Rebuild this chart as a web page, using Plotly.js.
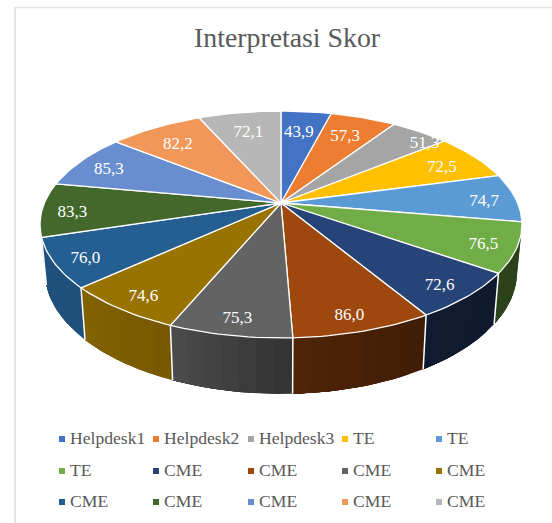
<!DOCTYPE html>
<html>
<head>
<meta charset="utf-8">
<script src="https://cdn.plot.ly/plotly-3.0.1.min.js"></script>
<style>html,body{margin:0;padding:0;background:#fff}#chart{width:552px;height:523px}</style>
</head>
<body>
<div id="chart"></div>
<script>
const categories = ["Helpdesk1","Helpdesk2","Helpdesk3","TE","TE","TE","CME","CME","CME","CME","CME","CME","CME","CME","CME"];
const values = [43.9,57.3,51.3,72.5,74.7,76.5,72.6,86.0,75.3,74.6,76.0,83.3,85.3,82.2,72.1];
const colors = ["#4472C4","#ED7D31","#A5A5A5","#FFC000","#5B9BD5","#70AD47","#264478","#9E480E","#636363","#997300","#255E91","#43682B","#698ED0","#F1975A","#B7B7B7"];
const chartTitle = "Interpretasi Skor";

// Projection of the tilted disc onto the page (perspective)
const CX = 281, CY = 203, A = 236.6, B = 109.4, K = 0.1895;
const SHRINK = 0.98;
const total = values.reduce((a,b)=>a+b,0);
const rad = d => d*Math.PI/180;
function top3d(deg, r){
  r = r===undefined ? 1 : r;
  const u = r*Math.sin(rad(deg)), v = -r*Math.cos(rad(deg)), w = 1-K*v;
  return [CX + A*u/w, CY + B*v/w];
}
function bottom3d(deg){
  const p = top3d(deg);
  return [CX + (p[0]-CX)*SHRINK, p[1] + 52 + (p[1]-289)*0.08];
}
function shadeFactor(x){
  const xs=[40,81,170,285,424,525], fs=[0.86,0.85,0.76,0.52,0.40,0.38];
  for(let i=1;i<xs.length;i++){ if(x<=xs[i]){ const t=(x-xs[i-1])/(xs[i]-xs[i-1]); return fs[i-1]+t*(fs[i]-fs[i-1]); } }
  return fs[fs.length-1];
}
function shade(hex,f){
  const n=parseInt(hex.slice(1),16);
  return `rgb(${Math.round((n>>16)*f)},${Math.round(((n>>8)&255)*f)},${Math.round((n&255)*f)})`;
}

const traces = [];
let cum = 0;
const slices = values.map((v,i)=>{
  const s = cum/total*360; cum += v; const e = cum/total*360;
  return {s,e,mid:(s+e)/2,color:colors[i],value:v,name:categories[i]};
});

// Side wall (visible front part only), drawn as shaded overlapping strips
const VIS0 = 101, VIS1 = 259;
slices.forEach(sl=>{
  const a0 = Math.max(sl.s,VIS0), a1 = Math.min(sl.e,VIS1);
  if(a1<=a0) return;
  const n = Math.max(1,Math.ceil((a1-a0)/4));
  for(let j=0;j<n;j++){
    // each strip runs to the end of the slice, so later strips paint over earlier ones with no seam
    const p0=a0+(a1-a0)*j/n, p1=a1;
    const xs=[],ys=[];
    const m=Math.max(2,Math.ceil((p1-p0)/1.5));
    for(let q=0;q<=m;q++){const d=p0+(p1-p0)*q/m,t=top3d(d);xs.push(t[0]);ys.push(t[1]);}
    for(let q=m;q>=0;q--){const d=p0+(p1-p0)*q/m,b=bottom3d(d);xs.push(b[0]);ys.push(b[1]);}
    xs.push(xs[0]);ys.push(ys[0]);
    const ct=top3d(p0+(a1-a0)/n/2);
    const c=shade(sl.color,shadeFactor(ct[0]));
    traces.push({type:"scatter",mode:"lines",x:xs,y:ys,fill:"toself",fillcolor:c,line:{width:0},hoverinfo:"skip",showlegend:false});
  }
});
// White seams between side wall segments
slices.forEach(sl=>{
  if(sl.s>VIS0 && sl.s<VIS1){
    const t=top3d(sl.s),b=bottom3d(sl.s);
    traces.push({type:"scatter",mode:"lines",x:[t[0],b[0]],y:[t[1],b[1]],line:{color:"#ffffff",width:1.5},hoverinfo:"skip",showlegend:false});
  }
});
// Top faces
slices.forEach(sl=>{
  const xs=[CX],ys=[CY];
  const n=Math.ceil((sl.e-sl.s)/1.5);
  for(let j=0;j<=n;j++){const p=top3d(sl.s+(sl.e-sl.s)*j/n);xs.push(p[0]);ys.push(p[1]);}
  xs.push(CX);ys.push(CY);
  traces.push({type:"scatter",mode:"lines",x:xs,y:ys,fill:"toself",fillcolor:sl.color,line:{color:"#ffffff",width:1.3},hoverinfo:"skip",showlegend:false});
});
// Data labels: radius along each slice's middle; two slices sit at their own place
const labelOverride = {2:{deg:47,r:0.945}, 3:{r:0.83}};
const lab = slices.map((sl,i)=>{
  const c=Math.max(0,Math.cos(rad(sl.mid)));
  const o=labelOverride[i]||{};
  return top3d(o.deg||sl.mid, o.r || (0.875-0.12*c*c));
});
traces.push({type:"scatter",mode:"text",
  x:lab.map(p=>p[0]>CX ? p[0]-2 : p[0]),
  y:lab.map(p=>p[1]+ (p[1]<136 ? 1.5 : 3.5)),
  text:values.map(v=>v.toFixed(1).replace(".",",")),textposition:"middle center",
  textfont:{family:"Liberation Serif",size:17,color:"#ffffff"},hoverinfo:"skip",showlegend:false});

// Legend: five columns, three rows
const legendCols=[62,156,251,345,439], legendRows=[439,471,502];
const legendX=categories.map((_,i)=>legendCols[i%5]);
const legendY=categories.map((_,i)=>legendRows[Math.floor(i/5)]);
traces.push({type:"scatter",mode:"markers",x:legendX,y:legendY,
  marker:{symbol:"square",size:6,color:colors},hoverinfo:"skip",showlegend:false});
traces.push({type:"scatter",mode:"text",x:legendX.map(x=>x+8),y:legendY.map(y=>y+1),
  text:categories,textposition:"middle right",
  textfont:{family:"Liberation Serif",size:17.6,color:"#595959"},
  hoverinfo:"skip",showlegend:false});

const layout={
  width:552,height:523,margin:{l:0,r:0,t:0,b:0},
  paper_bgcolor:"#ffffff",plot_bgcolor:"#ffffff",showlegend:false,
  xaxis:{range:[0,552],visible:false,fixedrange:true},
  yaxis:{range:[523,0],visible:false,fixedrange:true},
  title:{text:chartTitle,font:{family:"Liberation Serif",size:27.8,color:"#595959"},x:0.52,xanchor:"center",y:0.928,yanchor:"middle"},
  shapes:[
    {type:"line",xref:"x",yref:"y",x0:15,x1:15,y0:7,y1:523,line:{color:"#e4e4e4",width:2}},
    {type:"line",xref:"x",yref:"y",x0:15,x1:552,y0:7.5,y1:7.5,line:{color:"#e4e4e4",width:1.5}}
  ]
};
Plotly.newPlot("chart",traces,layout,{displayModeBar:false,staticPlot:true});
</script>
</body>
</html>
